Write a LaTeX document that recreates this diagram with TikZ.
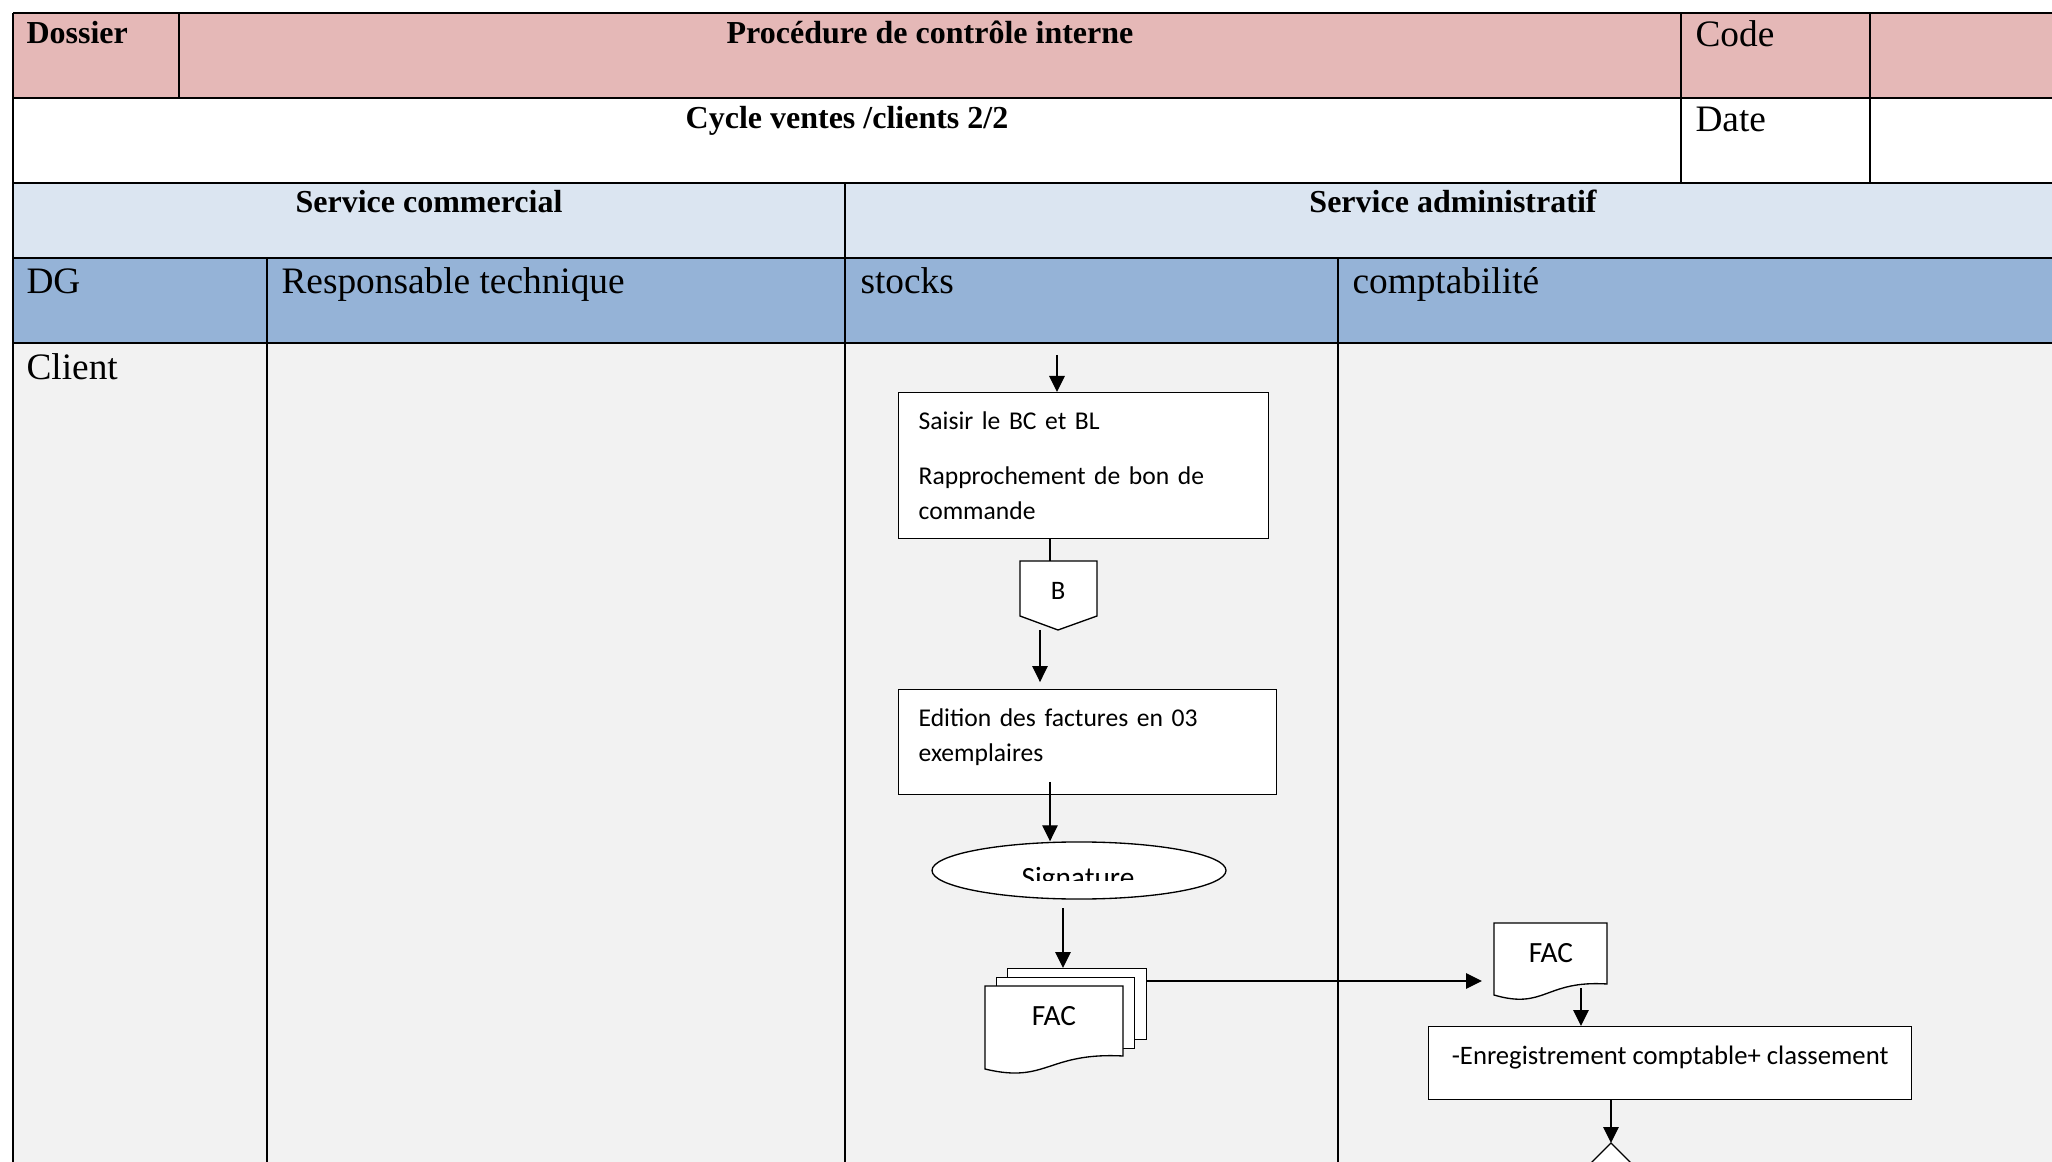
\documentclass[tikz,border=0pt]{standalone}
\usepackage{fontspec}
\setmainfont{Liberation Serif}
\newfontfamily\calibri{Carlito}
\usepackage{xcolor}
\usetikzlibrary{positioning, arrows.meta, shapes.geometric}

\definecolor{hdrpink}{HTML}{E5B8B7}
\definecolor{svcblue}{HTML}{DBE5F1}
\definecolor{roleblue}{HTML}{95B3D7}
\definecolor{lanegray}{HTML}{F2F2F2}

\tikzset{
  grid line/.style={line width=0.6pt},
  cell/.style={anchor=base west, inner sep=0pt, font=\fontsize{14}{16}\selectfont},
  title/.style={anchor=base, inner sep=0pt, font=\bfseries\fontsize{12}{14}\selectfont},
  procbox/.style={draw, fill=white, line width=0.5pt, anchor=north west, align=left,
    inner xsep=7.5pt, inner ysep=0pt, font=\calibri\fontsize{9.6}{13.1}\selectfont},
  docshape/.style={draw, fill=white, line width=0.5pt},
  flow/.style={->, line width=0.5pt},
  doclabel/.style={anchor=base, inner sep=0pt, font=\calibri\fontsize{11}{13}\selectfont},
}

\begin{document}
\begin{tikzpicture}[x=0.375pt, y=-0.375pt, >={Triangle[length=6pt, width=5.8pt]}]
  \useasboundingbox (0,0) rectangle (2052,1162);
  \clip (0,0) rectangle (2052,1162);
  \fill[white] (0,0) rectangle (2052,1162);

  % table bands
  \fill[hdrpink] (13,13) rectangle (2070,98);
  \fill[white] (13,98) rectangle (2070,183);
  \fill[svcblue] (13,183) rectangle (2070,258);
  \fill[roleblue] (13,258) rectangle (2070,343);
  \fill[lanegray] (13,343) rectangle (2070,1170);

  % table rules
  \foreach \y in {13,98,183,258,343}
    \draw[grid line] (13,\y) -- (2070,\y);
  \draw[grid line] (13,13) -- (13,1170);
  \draw[grid line] (179,13) -- (179,98);
  \foreach \x in {1681,1870}
    \draw[grid line] (\x,13) -- (\x,183);
  \draw[grid line] (845,183) -- (845,1170);
  \foreach \x in {267,1338}
    \draw[grid line] (\x,258) -- (\x,1170);

  % headings
  \node[title, anchor=base west] (dossier) at (26,44) {Dossier};
  \node[title] (proc) at (930,44) {Procédure de contrôle interne};
  \node[cell] (code) at (1695,47) {Code};
  \node[title] (cycle) at (847,129) {Cycle ventes /clients 2/2};
  \node[cell] (date) at (1695,132) {Date};
  \node[title] (commercial) at (429,213) {Service commercial};
  \node[title] (admin) at (1453,213) {Service administratif};
  \node[cell] (dg) at (26,294) {DG};
  \node[cell] (resp) at (281,294) {Responsable technique};
  \node[cell] (stocks) at (860,294) {stocks};
  \node[cell] (compta) at (1352,294) {comptabilité};
  \node[cell] (client) at (26,380) {Client};

  % stocks lane
  \coordinate (entry) at (1057,355);
  \node[procbox, text width=123.75pt, minimum height=54.75pt] (saisir) at (898,392)
    {Saisir le BC et BL\\[7.5pt] Rapprochement de bon de\\ commande};

  \draw[docshape] (1020,561) -- (1097,561) -- (1097,616) -- (1058,630) -- (1020,616) -- cycle;
  \node[inner sep=0pt, font=\calibri\fontsize{10}{12}\selectfont] (bonB) at (1058,591) {B};
  \coordinate (bIn) at (1050,561);
  \coordinate (bOut) at (1040,630);

  \node[procbox, text width=126.75pt, minimum height=39.4pt, text depth=18.4pt] (edition) at (898,689)
    {Edition des factures en 03\\ exemplaires};
  \coordinate (edOut) at (1050,782);

  \node[ellipse, draw, fill=white, line width=0.5pt, minimum width=110.25pt,
    minimum height=21.4pt, inner sep=0pt] (signature) at (1079,870.5) {};
  \begin{scope}
    \clip (932,842) rectangle (1226,880);
    \node[doclabel] (sigtext) at (1078,888) {Signature};
  \end{scope}
  \coordinate (sigOut) at (1063,908);

  % invoice copies
  \node[docshape, anchor=north west, inner sep=0pt, minimum width=52.1pt, minimum height=26.6pt] (facback) at (1007,968) {};
  \node[docshape, anchor=north west, inner sep=0pt, minimum width=51.75pt, minimum height=26.6pt] (facmid) at (996,977) {};
  \draw[docshape] (985,986) -- (1123,986) -- (1123,1056)
    .. controls (1047,1052) and (1047,1084) .. (985,1069) -- cycle;
  \node[doclabel] (facs) at (1054,1025) {FAC};

  % comptabilite lane
  \draw[docshape] (1494,923) -- (1607,923) -- (1607,984)
    .. controls (1545,980) and (1545,1010) .. (1494,995) -- cycle;
  \node[doclabel] (fac) at (1551,962) {FAC};
  \coordinate (facIn) at (1482,981);
  \coordinate (facOut) at (1581,988);

  \node[procbox, minimum width=181.1pt, minimum height=27.4pt, align=center, text depth=6pt,
    font=\calibri\fontsize{10}{13.1}\selectfont] (enreg) at (1428,1026)
    {-Enregistrement comptable+ classement};

  \coordinate (decTop) at (1611,1143);
  \draw[docshape] (decTop) -- ++(60,60) -- ++(-60,60) -- ++(-60,-60) -- cycle;

  % connectors
  \draw[flow] (entry) -- (entry |- saisir.north);
  \draw[line width=0.5pt] (bIn |- saisir.south) -- (bIn);
  \draw[flow, shorten >=2.6pt] (bOut) -- (bOut |- edition.north);
  \draw[flow] (edOut) -- (edOut |- signature.north);
  \draw[flow] (sigOut) -- (sigOut |- facback.north);
  \draw[flow] ([shift={(0,13)}]facback.north east) -- (facIn);
  \draw[flow] (facOut) -- (facOut |- enreg.north);
  \draw[flow] (decTop |- enreg.south) -- (decTop);
\end{tikzpicture}
\end{document}
